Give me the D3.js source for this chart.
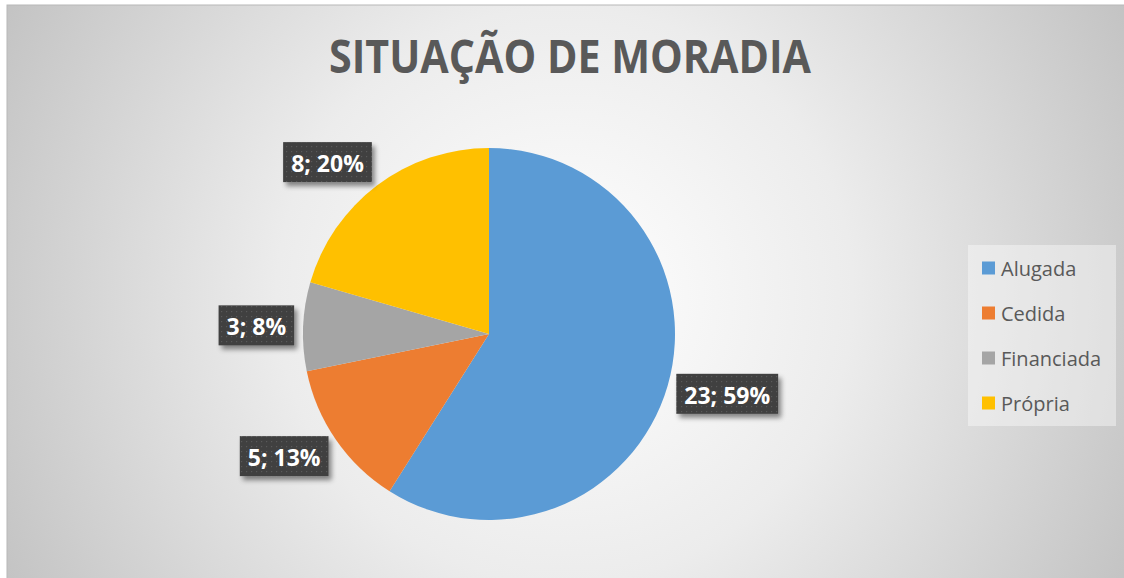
<!DOCTYPE html>
<html lang="pt">
<head>
    <meta charset="UTF-8">
    <title>Situação de Moradia</title>
    <script src="https://d3js.org/d3.v7.min.js"></script>
    <style>
        body { margin: 0; background: #fff; }
        svg { display: block; }
        .title { font-family: 'Open Sans', sans-serif; font-weight: 700; fill: #595959; }
        .legend text { font-family: 'Open Sans', sans-serif; font-size: 20px; fill: #595959; }
        .lbl text { font-family: 'Open Sans', sans-serif; font-weight: 700; font-size: 23px; fill: #fff; }
    </style>
</head>
<body>
<div id="chart"></div>
<script>
    // data
    const categories = ["Alugada", "Cedida", "Financiada", "Própria"];
    const values = [23, 5, 3, 8];
    const percentLabels = ["59%", "13%", "8%", "20%"];
    const colors = ["#5B9BD5", "#ED7D31", "#A5A5A5", "#FFC000"];

    const W = 1124, H = 578;
    const svg = d3.select("#chart").append("svg")
        .attr("width", W)
        .attr("height", H);

    const defs = svg.append("defs");

    // background gradient
    const bg = defs.append("radialGradient")
        .attr("id", "bg")
        .attr("gradientUnits", "userSpaceOnUse")
        .attr("cx", 565).attr("cy", 295).attr("r", 640);
    bg.append("stop").attr("offset", "0%").attr("stop-color", "#ffffff");
    bg.append("stop").attr("offset", "45%").attr("stop-color", "#ececec");
    bg.append("stop").attr("offset", "100%").attr("stop-color", "#c2c2c2");

    // dotted pattern for label boxes
    const pat = defs.append("pattern")
        .attr("id", "dots")
        .attr("width", 5).attr("height", 5)
        .attr("patternUnits", "userSpaceOnUse");
    pat.append("rect").attr("width", 5).attr("height", 5).attr("fill", "#3f3f3f");
    pat.append("rect").attr("x", 2).attr("y", 2).attr("width", 1.2).attr("height", 1.2).attr("fill", "#5a5a5a");

    const shadow = defs.append("filter")
        .attr("id", "shadow")
        .attr("x", "-20%").attr("y", "-30%")
        .attr("width", "150%").attr("height", "180%");
    shadow.append("feDropShadow")
        .attr("dx", 3).attr("dy", 4)
        .attr("stdDeviation", 2.5)
        .attr("flood-color", "#000")
        .attr("flood-opacity", 0.45);

    // chart area
    svg.append("rect")
        .attr("x", 7).attr("y", 5)
        .attr("width", W).attr("height", H)
        .attr("fill", "url(#bg)")
        .attr("stroke", "#b8b8b8")
        .attr("stroke-width", 1);

    // title
    svg.append("text")
        .attr("class", "title")
        .attr("x", 570).attr("y", 73)
        .attr("text-anchor", "middle")
        .attr("font-size", 46)
        .attr("textLength", 482)
        .attr("lengthAdjust", "spacingAndGlyphs")
        .text("SITUAÇÃO DE MORADIA");

    // pie
    const cx = 489, cy = 334, r = 186;
    const pie = d3.pie().sort(null).value(d => d);
    const arcs = pie(values);
    const arc = d3.arc().innerRadius(0).outerRadius(r);

    const g = svg.append("g").attr("transform", `translate(${cx},${cy})`);
    g.selectAll("path")
        .data(arcs)
        .enter().append("path")
        .attr("d", arc)
        .attr("fill", (d, i) => colors[i]);

    // data labels (outside end, box corner placed against the pie)
    const labels = g.selectAll(".lbl")
        .data(arcs)
        .enter().append("g")
        .attr("class", "lbl");

    labels.each(function(d, i) {
        const el = d3.select(this);
        const t = el.append("text")
            .attr("text-anchor", "middle")
            .attr("dominant-baseline", "central")
            .text(values[i] + "; " + percentLabels[i]);
        const tw = t.node().getComputedTextLength();
        const w = tw + 16, h = 40;
        const mid = (d.startAngle + d.endAngle) / 2;
        const ux = Math.sin(mid), uy = -Math.cos(mid);
        const ax = (r + 9) * ux, ay = (r + 9) * uy;
        const bx = ax + (ux >= 0 ? 1 : -1) * w / 2;
        const by = ay + uy * h / 2;
        el.insert("rect", "text")
            .attr("x", bx - w / 2).attr("y", by - h / 2)
            .attr("width", w).attr("height", h)
            .attr("fill", "url(#dots)")
            .attr("filter", "url(#shadow)");
        t.attr("x", bx).attr("y", by + 1);
    });

    // legend
    const legend = svg.append("g").attr("class", "legend");
    legend.append("rect")
        .attr("x", 968).attr("y", 245)
        .attr("width", 148).attr("height", 181)
        .attr("fill", "#ffffff")
        .attr("fill-opacity", 0.4);

    const y = d3.scalePoint()
        .domain(categories)
        .range([268, 403]);

    const items = legend.selectAll(".item")
        .data(categories)
        .enter().append("g")
        .attr("class", "item")
        .attr("transform", d => `translate(982,${y(d)})`);

    items.append("rect")
        .attr("x", 0).attr("y", -6.5)
        .attr("width", 13).attr("height", 13)
        .attr("fill", (d, i) => colors[i]);

    items.append("text")
        .attr("x", 19).attr("y", 0)
        .attr("dominant-baseline", "central")
        .text(d => d);
</script>
</body>
</html>
